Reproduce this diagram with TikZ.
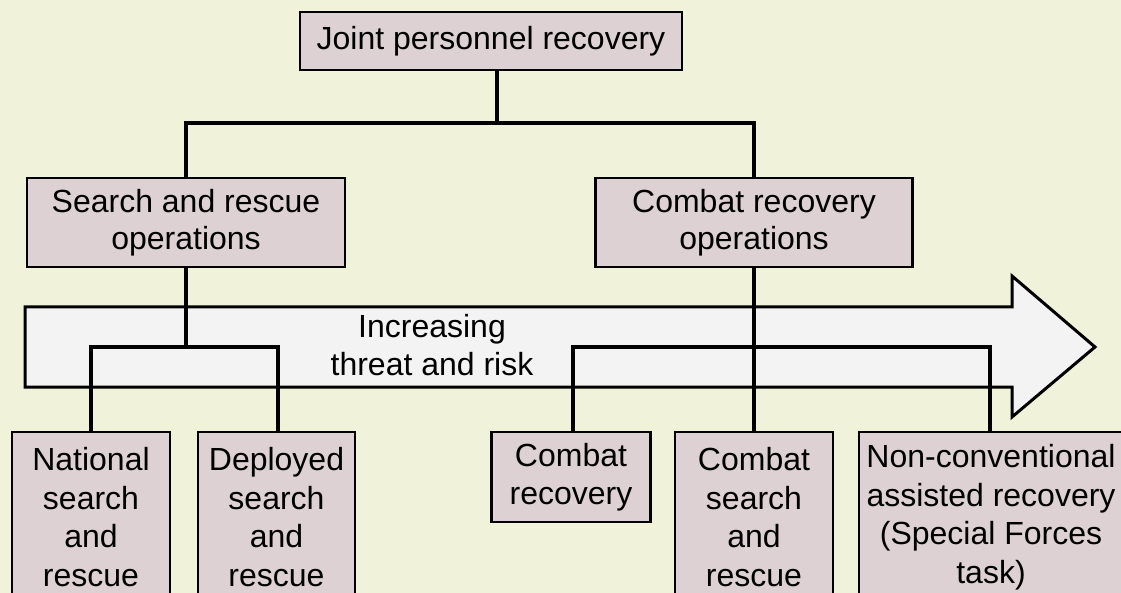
\documentclass[tikz,border=0pt]{standalone}
\usepackage{fontspec}
\setmainfont{Liberation Sans}
\definecolor{bgc}{RGB}{240,243,217}
\definecolor{boxc}{RGB}{221,209,212}
\definecolor{arrc}{RGB}{243,243,243}
\begin{document}
\begin{tikzpicture}[x=1pt,y=-1pt,
  box/.style={draw=black, line width=2.8pt, fill=boxc, align=center, inner sep=0pt,
    font=\fontsize{32pt}{38.5pt}\selectfont},
  conn/.style={draw=black, line width=4pt, line cap=rect},
  arrowtxt/.style={align=center, inner sep=0pt, font=\fontsize{32pt}{38pt}\selectfont}]
\useasboundingbox (0,0) rectangle (1121,593);
\clip (0,0) rectangle (1121,593);
\fill[bgc] (0,0) rectangle (1121,593);
% big arrow
\draw[line width=3pt, fill=arrc, line join=miter]
  (25,307) -- (1012,307) -- (1012,276) -- (1095,347) -- (1012,417) -- (1012,387) -- (25,387) -- cycle;
\node[arrowtxt] (risk) at (432,345) {Increasing\\threat and risk};
% boxes
\node[box, minimum width=382pt, minimum height=58pt] (top) at (491,41) {Joint personnel recovery};
\node[box, minimum width=318pt, minimum height=89pt] (sar) at (186,222.5) {Search and rescue\\[-1.5pt]operations};
\node[box, minimum width=317pt, minimum height=89pt] (cro) at (754,222.5) {Combat recovery\\[-1.5pt]operations};
\node[box, minimum width=158pt, minimum height=170pt] (nat) at (91,517) {National\\search\\and\\rescue};
\node[box, minimum width=157pt, minimum height=170pt] (dep) at (276.5,517) {Deployed\\search\\and\\rescue};
\node[box, minimum width=159pt, minimum height=90pt] (cr) at (571,477) {Combat\\recovery};
\node[box, minimum width=158pt, minimum height=170pt] (csar) at (754,517) {Combat\\search\\and\\rescue};
\node[box, minimum width=264pt, minimum height=170pt] (nar) at (991,517) {Non-conventional\\assisted recovery\\(Special Forces\\task)};
% bus coordinates
\coordinate (bus1) at (497,123);
\coordinate (bus2) at (186,347);
\coordinate (bus3) at (754,347);
% connectors
\draw[conn] (top.south -| bus1) -- (bus1);
\draw[conn] (sar.north) -- (sar.north |- bus1) -- (cro.north |- bus1) -- (cro.north);
\draw[conn] (sar.south) -- (bus2);
\draw[conn] (nat.north) -- (nat.north |- bus2) -- ([xshift=1.5pt]dep.north |- bus2) -- ([xshift=1.5pt]dep.north);
\draw[conn] (cro.south) -- (csar.north);
\draw[conn] ([xshift=1.5pt]cr.north) -- ([xshift=1.5pt]cr.north |- bus3) -- ([xshift=-1pt]nar.north |- bus3) -- ([xshift=-1pt]nar.north);
\end{tikzpicture}
\end{document}
